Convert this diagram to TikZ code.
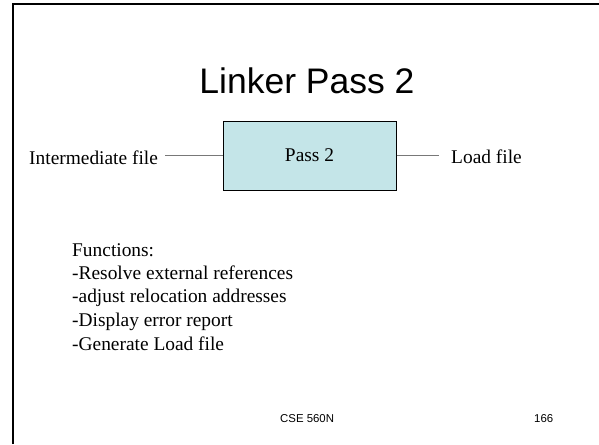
\documentclass[tikz,border=0pt]{standalone}
\usepackage{fontspec}
\setmainfont{Liberation Serif}
\newfontfamily\slidesans{Liberation Sans}
\definecolor{boxfill}{RGB}{196,229,232}
\definecolor{wire}{RGB}{120,120,120}
\begin{document}
\begin{tikzpicture}[x=1pt,y=-1pt,
  bodytext/.style={font=\fontsize{19.4}{23.4}\selectfont, inner ysep=0pt},
  listline/.style={bodytext, anchor=base west, inner xsep=0pt},
  passbox/.style={draw=black, line width=1pt, fill=boxfill,
    minimum width=173pt, minimum height=69pt, inner sep=0pt, bodytext},
  wireline/.style={draw=wire, line width=1.3pt},
  footer/.style={font=\slidesans\fontsize{11.4}{13}\selectfont, anchor=base west, inner sep=0pt}]
  \useasboundingbox (0,0) rectangle (599,444);
  % slide frame: left and top edges only
  \draw[line width=2pt] (13,444) -- (13,4) -- (599,4);
  % title
  \node[font=\slidesans\fontsize{35.5}{40}\selectfont, anchor=base, inner sep=0pt] (title) at (307,93) {Linker Pass 2};
  % central process box and its input / output
  \node[passbox] (pass) at (309.5,155.5) {Pass 2};
  \node[bodytext, anchor=base west, inner xsep=7pt] (inter) at (22,164) {Intermediate file};
  \node[bodytext, anchor=base west, inner xsep=12pt] (load) at (439,163) {Load file};
  \draw[wireline] (inter.east |- pass.west) -- (pass.west);
  \draw[wireline] (pass.east) -- (load.west |- pass.east);
  % list of functions
  \node[listline] (f0) at (72,256) {Functions:};
  \node[listline] (f1) at (72,279.4) {-Resolve external references};
  \node[listline] (f2) at (72,302.9) {-adjust relocation addresses};
  \node[listline] (f3) at (72,326.4) {-Display error report};
  \node[listline] (f4) at (72,350) {-Generate Load file};
  % footer
  \node[footer] (course) at (280,422) {CSE 560N};
  \node[footer] (page) at (534,422) {166};
\end{tikzpicture}
\end{document}
